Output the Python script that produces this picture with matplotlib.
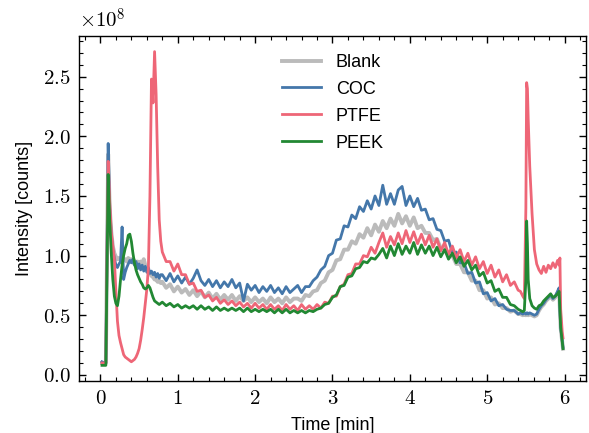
import numpy as np
import matplotlib
matplotlib.use('Agg')
import matplotlib.pyplot as plt
from matplotlib.ticker import MultipleLocator, FuncFormatter

# time [min]: dense at the start, regular 0.05 grid in the middle, dense at the end
t_start = [0.02, 0.05, 0.07, 0.085, 0.10, 0.12, 0.14, 0.16, 0.18, 0.20,
           0.22, 0.24, 0.26, 0.28, 0.30, 0.32, 0.34, 0.36, 0.38, 0.40,
           0.42, 0.44, 0.46, 0.48, 0.50, 0.52, 0.54, 0.56, 0.58, 0.60,
           0.62, 0.64, 0.66, 0.68, 0.70, 0.72, 0.74, 0.76, 0.78]
t_mid = [0.80, 0.85, 0.90, 0.95, 1.00, 1.05, 1.10, 1.15, 1.20, 1.25,
         1.30, 1.35, 1.40, 1.45, 1.50, 1.55, 1.60, 1.65, 1.70, 1.75,
         1.80, 1.85, 1.90, 1.95, 2.00, 2.05, 2.10, 2.15, 2.20, 2.25,
         2.30, 2.35, 2.40, 2.45, 2.50, 2.55, 2.60, 2.65, 2.70, 2.75,
         2.80, 2.85, 2.90, 2.95, 3.00, 3.05, 3.10, 3.15, 3.20, 3.25,
         3.30, 3.35, 3.40, 3.45, 3.50, 3.55, 3.60, 3.65, 3.70, 3.75,
         3.80, 3.85, 3.90, 3.95, 4.00, 4.05, 4.10, 4.15, 4.20, 4.25,
         4.30, 4.35, 4.40, 4.45, 4.50, 4.55, 4.60, 4.65, 4.70, 4.75,
         4.80, 4.85, 4.90, 4.95, 5.00, 5.05, 5.10, 5.15, 5.20, 5.25,
         5.30, 5.35, 5.40]
t_end = [5.43, 5.46, 5.48, 5.50, 5.51, 5.52, 5.53, 5.55, 5.58, 5.61,
         5.64, 5.67, 5.70, 5.73, 5.76, 5.79, 5.82, 5.85, 5.88, 5.91,
         5.93, 5.94, 5.95, 5.97, 5.98]

# intensities in units of 1e8 counts
blank_start = [0.10, 0.10, 0.10, 0.95, 1.85, 1.40, 1.20, 1.08, 1.02, 0.99,
               0.97, 0.98, 0.96, 0.98, 0.96, 0.97, 0.95, 0.98, 0.95, 0.97,
               0.94, 0.96, 0.93, 0.95, 0.92, 0.95, 0.93, 0.97, 0.92, 0.90,
               0.87, 0.85, 0.83, 0.82, 0.80, 0.80, 0.78, 0.79, 0.77]
blank_mid = [0.78, 0.73, 0.76, 0.70, 0.74, 0.69, 0.72, 0.67, 0.71, 0.66,
             0.70, 0.65, 0.69, 0.64, 0.68, 0.63, 0.67, 0.63, 0.67, 0.62,
             0.66, 0.62, 0.65, 0.61, 0.65, 0.61, 0.64, 0.60, 0.65, 0.61,
             0.64, 0.60, 0.65, 0.61, 0.64, 0.64, 0.62, 0.67, 0.66, 0.70,
             0.71, 0.77, 0.79, 0.86, 0.88, 0.96, 0.97, 1.05, 1.05, 1.12,
             1.10, 1.18, 1.15, 1.23, 1.17, 1.26, 1.20, 1.29, 1.23, 1.31,
             1.25, 1.35, 1.27, 1.33, 1.25, 1.32, 1.23, 1.25, 1.19, 1.19,
             1.13, 1.14, 1.06, 1.07, 1.00, 1.00, 0.93, 0.93, 0.86, 0.86,
             0.79, 0.79, 0.71, 0.71, 0.64, 0.65, 0.59, 0.60, 0.56, 0.56,
             0.53, 0.54, 0.51]
blank_end = [0.51, 0.50, 0.51, 0.50, 0.51, 0.51, 0.50, 0.51, 0.50, 0.49,
             0.50, 0.54, 0.57, 0.59, 0.62, 0.64, 0.66, 0.63, 0.65, 0.69,
             0.72, 0.54, 0.39, 0.28, 0.22]

coc_start = [0.11, 0.10, 0.10, 1.00, 1.94, 1.40, 1.18, 1.05, 0.98, 0.92,
             0.90, 0.93, 0.95, 1.24, 0.80, 0.86, 0.90, 0.93, 0.96, 0.94,
             0.97, 0.92, 0.95, 0.89, 0.93, 0.88, 0.92, 0.87, 0.91, 0.86,
             0.90, 0.85, 0.87, 0.84, 0.86, 0.82, 0.85, 0.81, 0.84]
coc_mid = [0.84, 0.79, 0.85, 0.78, 0.83, 0.77, 0.82, 0.76, 0.81, 0.88,
           0.79, 0.75, 0.80, 0.74, 0.79, 0.73, 0.78, 0.74, 0.80, 0.73,
           0.77, 0.62, 0.76, 0.71, 0.75, 0.69, 0.74, 0.70, 0.75, 0.69,
           0.73, 0.68, 0.74, 0.69, 0.72, 0.75, 0.69, 0.74, 0.74, 0.79,
           0.82, 0.88, 0.91, 1.00, 1.02, 1.13, 1.14, 1.25, 1.24, 1.34,
           1.31, 1.41, 1.37, 1.46, 1.39, 1.50, 1.42, 1.59, 1.43, 1.52,
           1.43, 1.55, 1.58, 1.42, 1.50, 1.41, 1.48, 1.38, 1.39, 1.30,
           1.31, 1.22, 1.21, 1.12, 1.13, 1.02, 1.03, 0.94, 0.94, 0.85,
           0.86, 0.77, 0.78, 0.68, 0.69, 0.62, 0.64, 0.58, 0.59, 0.55,
           0.54, 0.54, 0.51]
coc_end = [0.52, 0.51, 0.52, 0.51, 0.52, 0.52, 0.51, 0.52, 0.51, 0.50,
           0.51, 0.55, 0.58, 0.60, 0.63, 0.65, 0.67, 0.64, 0.66, 0.70,
           0.73, 0.55, 0.40, 0.29, 0.23]

ptfe_start = [0.10, 0.10, 0.10, 1.00, 1.79, 1.45, 1.20, 1.08, 0.97, 0.70,
              0.45, 0.33, 0.27, 0.22, 0.17, 0.15, 0.14, 0.13, 0.12, 0.11,
              0.12, 0.13, 0.15, 0.18, 0.22, 0.29, 0.38, 0.48, 0.60, 0.72,
              0.90, 1.50, 2.48, 2.28, 2.71, 2.35, 1.75, 1.30, 1.12]
ptfe_mid = [1.03, 0.95, 0.95, 0.87, 0.93, 0.84, 0.84, 0.76, 0.77, 0.70,
            0.71, 0.65, 0.67, 0.62, 0.65, 0.60, 0.63, 0.59, 0.62, 0.58,
            0.61, 0.57, 0.60, 0.56, 0.60, 0.56, 0.59, 0.55, 0.59, 0.55,
            0.58, 0.54, 0.59, 0.55, 0.58, 0.54, 0.59, 0.55, 0.58, 0.55,
            0.59, 0.56, 0.61, 0.60, 0.66, 0.66, 0.74, 0.76, 0.84, 0.85,
            0.93, 0.93, 1.00, 0.99, 1.07, 1.02, 1.11, 1.19, 1.07, 1.16,
            1.09, 1.19, 1.10, 1.21, 1.11, 1.20, 1.10, 1.18, 1.09, 1.17,
            1.07, 1.14, 1.04, 1.11, 1.01, 1.08, 0.98, 1.05, 0.95, 1.02,
            0.92, 0.99, 0.89, 0.95, 0.85, 0.92, 0.82, 0.88, 0.78, 0.84,
            0.75, 0.78, 0.71]
ptfe_end = [0.70, 0.66, 0.64, 1.40, 2.45, 2.40, 2.15, 1.75, 1.35, 1.05,
            0.93, 0.88, 0.85, 0.91, 0.86, 0.92, 0.89, 0.94, 0.90, 0.96,
            0.92, 0.98, 0.55, 0.36, 0.31]

peek_start = [0.08, 0.08, 0.08, 0.90, 1.68, 1.30, 1.02, 0.80, 0.66, 0.60,
              0.58, 0.66, 0.80, 0.92, 1.00, 1.06, 1.10, 1.17, 1.18, 1.12,
              1.02, 0.94, 0.88, 0.84, 0.81, 0.78, 0.76, 0.73, 0.72, 0.73,
              0.75, 0.73, 0.69, 0.65, 0.62, 0.61, 0.60, 0.59, 0.60]
peek_mid = [0.61, 0.58, 0.60, 0.57, 0.59, 0.56, 0.58, 0.56, 0.58, 0.55,
            0.58, 0.55, 0.57, 0.54, 0.57, 0.54, 0.56, 0.54, 0.56, 0.54,
            0.56, 0.53, 0.56, 0.53, 0.55, 0.53, 0.55, 0.53, 0.55, 0.52,
            0.55, 0.52, 0.55, 0.52, 0.54, 0.52, 0.54, 0.52, 0.54, 0.53,
            0.55, 0.56, 0.59, 0.60, 0.65, 0.67, 0.74, 0.75, 0.82, 0.83,
            0.89, 0.90, 0.95, 0.94, 0.98, 0.97, 1.01, 1.06, 0.98, 1.08,
            1.00, 1.10, 1.01, 1.08, 1.02, 1.11, 1.01, 1.09, 1.02, 1.08,
            1.00, 1.07, 0.99, 1.05, 0.97, 1.02, 0.94, 0.99, 0.91, 0.96,
            0.88, 0.92, 0.83, 0.86, 0.77, 0.79, 0.70, 0.72, 0.65, 0.65,
            0.59, 0.58, 0.55]
peek_end = [0.54, 0.53, 0.54, 0.80, 1.29, 1.10, 0.80, 0.64, 0.58, 0.56,
            0.55, 0.58, 0.59, 0.62, 0.64, 0.66, 0.68, 0.65, 0.66, 0.68,
            0.70, 0.55, 0.40, 0.28, 0.22]

time = np.array(t_start + t_mid + t_end)
series = [
    ('Blank', blank_start + blank_mid + blank_end, '#BBBBBB', 2.8),
    ('COC', coc_start + coc_mid + coc_end, '#4477AA', 2.0),
    ('PTFE', ptfe_start + ptfe_mid + ptfe_end, '#EE6677', 2.0),
    ('PEEK', peek_start + peek_mid + peek_end, '#228833', 2.0),
]

plt.rcParams['font.family'] = ['Liberation Sans', 'DejaVu Sans']
plt.rcParams['mathtext.fontset'] = 'cm'
plt.rcParams['font.size'] = 13
plt.rcParams['axes.labelsize'] = 13
plt.rcParams['axes.linewidth'] = 1.0
plt.rcParams['xtick.direction'] = 'in'
plt.rcParams['ytick.direction'] = 'in'
plt.rcParams['xtick.top'] = True
plt.rcParams['ytick.right'] = True
plt.rcParams['xtick.major.size'] = 5
plt.rcParams['ytick.major.size'] = 5
plt.rcParams['xtick.minor.size'] = 3
plt.rcParams['ytick.minor.size'] = 3
plt.rcParams['xtick.major.width'] = 1.0
plt.rcParams['ytick.major.width'] = 1.0
plt.rcParams['xtick.minor.width'] = 0.8
plt.rcParams['ytick.minor.width'] = 0.8
plt.rcParams['xtick.major.pad'] = 6
plt.rcParams['ytick.major.pad'] = 6
plt.rcParams['xtick.labelsize'] = 15
plt.rcParams['ytick.labelsize'] = 15

fig, ax = plt.subplots(figsize=(5.89, 4.33), dpi=100)
fig.subplots_adjust(left=0.134, right=0.995, bottom=0.120, top=0.917)

for name, vals, color, lw in series:
    ax.plot(time, np.array(vals) * 1e8, color=color, lw=lw, label=name)

ax.set_xlabel('Time [min]', labelpad=6)
ax.set_ylabel('Intensity [counts]', labelpad=7)
ax.xaxis.set_major_locator(MultipleLocator(1))
ax.xaxis.set_minor_locator(MultipleLocator(0.2))
ax.yaxis.set_major_locator(MultipleLocator(0.5e8))
ax.yaxis.set_minor_locator(MultipleLocator(0.1e8))
# tick labels in Computer Modern, like LaTeX
ax.xaxis.set_major_formatter(FuncFormatter(lambda v, p: r'$\mathrm{%g}$' % v))
ax.yaxis.set_major_formatter(FuncFormatter(lambda v, p: r'$\mathrm{%.1f}$' % (v / 1e8)))
ax.text(0.0, 1.012, r'$\times\mathrm{10}^{8}$', transform=ax.transAxes,
        ha='left', va='bottom', fontsize=15)

ax.legend(frameon=False, loc='upper left', bbox_to_anchor=(0.40, 0.948),
          borderpad=0, borderaxespad=0, handlelength=2.2,
          handletextpad=0.8, labelspacing=0.55)

fig.savefig('out.png', dpi=100)
